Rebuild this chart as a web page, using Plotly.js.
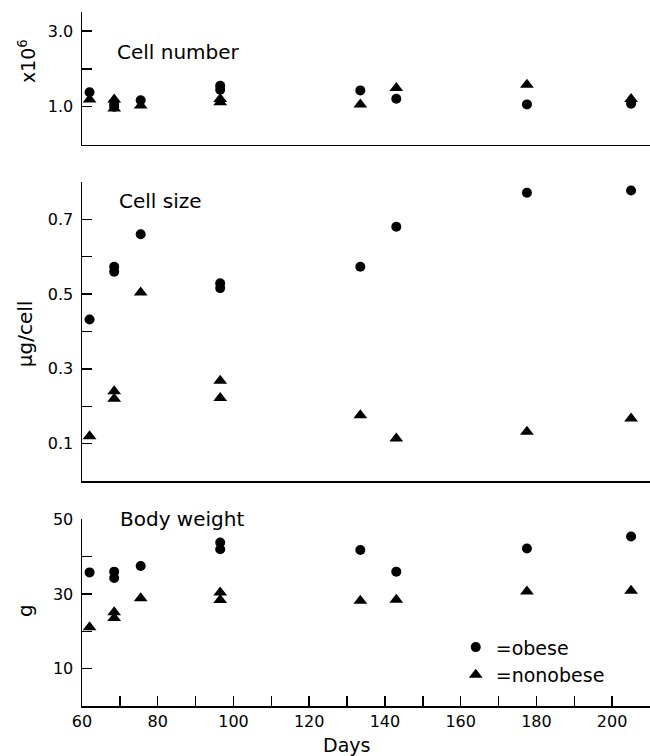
<!DOCTYPE html>
<html>
<head>
<meta charset="utf-8">
<script src="https://cdn.plot.ly/plotly-3.0.1.min.js"></script>
<style>html,body{margin:0;padding:0;background:#fff;}#chart{width:650px;height:756px;}</style>
</head>
<body>
<div id="chart"></div>
<script>
// Days of measurement (one entry per plotted point)
const days = [62, 68.5, 68.5, 75.5, 96.5, 96.5, 133.5, 143, 177.5, 205];

// Cell number (x10^6)
const cellNumberObese    = [1.38, 1.07, 1.0, 1.17, 1.55, 1.45, 1.43, 1.21, 1.06, 1.08];
const cellNumberNonobese = [1.19, 1.19, 0.95, 1.03, 1.20, 1.12, 1.06, 1.49, 1.58, 1.20];

// Cell size (ug/cell)
const cellSizeObese    = [0.432, 0.573, 0.560, 0.660, 0.529, 0.516, 0.573, 0.680, 0.771, 0.777];
const cellSizeNonobese = [0.120, 0.240, 0.220, 0.504, 0.268, 0.222, 0.176, 0.114, 0.132, 0.167];

// Body weight (g)
const bodyWeightObese    = [35.8, 36.0, 34.3, 37.5, 43.8, 42.0, 41.8, 36.0, 42.2, 45.4];
const bodyWeightNonobese = [21.1, 25.1, 23.6, 28.9, 30.4, 28.4, 28.2, 28.5, 30.7, 30.9];

// Tick labels (labelled ticks) and unlabelled ticks
const xTickVals = [60, 80, 100, 120, 140, 160, 180, 200];
const xTickText = ['60', '80', '100', '120', '140', '160', '180', '200'];
const xMinorVals = [70, 90, 110, 130, 150, 170, 190, 210];
const cnTickVals = [1, 3];
const cnTickText = ['1.0', '3.0'];
const cnMinorVals = [2];
const csTickVals = [0.1, 0.3, 0.5, 0.7];
const csTickText = ['0.1', '0.3', '0.5', '0.7'];
const csMinorVals = [0.2, 0.4, 0.6, 0.8];
const bwTickVals = [10, 30, 50];
const bwTickText = ['10', '30', '50'];
const bwMinorVals = [20, 40];

const FONT = 'DejaVu Sans, Liberation Sans, sans-serif';
const circ = {symbol:'circle', size:10, color:'#000'};
const tri  = {symbol:'triangle-up', size:12, color:'#000'};

const traces = [
  {x: days, y: bodyWeightObese, xaxis:'x', yaxis:'y', mode:'markers', type:'scatter', marker: circ, name:'=obese', legendgroup:'o', showlegend:true},
  {x: days, y: bodyWeightNonobese, xaxis:'x', yaxis:'y', mode:'markers', type:'scatter', marker: tri, name:'=nonobese', legendgroup:'n', showlegend:true},
  {x: days, y: cellSizeObese, xaxis:'x2', yaxis:'y2', mode:'markers', type:'scatter', marker: circ, name:'=obese', legendgroup:'o', showlegend:false},
  {x: days, y: cellSizeNonobese, xaxis:'x2', yaxis:'y2', mode:'markers', type:'scatter', marker: tri, name:'=nonobese', legendgroup:'n', showlegend:false},
  {x: days, y: cellNumberObese, xaxis:'x3', yaxis:'y3', mode:'markers', type:'scatter', marker: circ, name:'=obese', legendgroup:'o', showlegend:false},
  {x: days, y: cellNumberNonobese, xaxis:'x3', yaxis:'y3', mode:'markers', type:'scatter', marker: tri, name:'=nonobese', legendgroup:'n', showlegend:false}
];

function minorTicks(vals) {
  return {tickmode:'array', tickvals: vals, ticks:'inside', ticklen:10, tickwidth:1.5, tickcolor:'#000', showgrid:false};
}

const yBase = {
  showline:true, linecolor:'#000', linewidth:1.5, ticks:'inside', ticklen:10, tickwidth:1.5, tickcolor:'#000',
  showgrid:false, zeroline:false, tickmode:'array', ticklabelstandoff:4,
  tickfont:{family:FONT, size:16, color:'#000'}, fixedrange:true
};
const xBase = {
  range:[60,210], showline:true, linecolor:'#000', linewidth:1.5, showgrid:false, zeroline:false, fixedrange:true
};

const layout = {
  width:650, height:756,
  margin:{l:82, r:0, t:12, b:50},
  paper_bgcolor:'#fff', plot_bgcolor:'#fff',
  font:{family:FONT, color:'#000'},
  showlegend:true,
  legend:{x:0.658, xanchor:'left', y:0.112, yanchor:'top', font:{family:FONT, size:19, color:'#000'},
          bgcolor:'rgba(0,0,0,0)', tracegroupgap:0, itemwidth:30},
  xaxis: Object.assign({}, xBase, {anchor:'y', domain:[0,1], ticks:'inside', ticklen:10, tickwidth:1.5, tickcolor:'#000',
          tickmode:'array', tickvals:xTickVals, ticktext:xTickText, tickfont:{family:FONT, size:16, color:'#000'},
          minor: minorTicks(xMinorVals)}),
  xaxis2: Object.assign({}, xBase, {anchor:'y2', domain:[0,1], showticklabels:false, ticks:''}),
  xaxis3: Object.assign({}, xBase, {anchor:'y3', domain:[0,1], showticklabels:false, ticks:''}),
  yaxis: Object.assign({}, yBase, {anchor:'x', domain:[0,0.2689], range:[0,50], tickvals:bwTickVals, ticktext:bwTickText, minor: minorTicks(bwMinorVals)}),
  yaxis2: Object.assign({}, yBase, {anchor:'x2', domain:[0.3241,0.7552], range:[0,0.8], tickvals:csTickVals, ticktext:csTickText, minor: minorTicks(csMinorVals)}),
  yaxis3: Object.assign({}, yBase, {anchor:'x3', domain:[0.8090,1], range:[0,3.5], tickvals:cnTickVals, ticktext:cnTickText, minor: minorTicks(cnMinorVals)}),
  annotations:[
    {text:'Cell number', xref:'x3 domain', yref:'y3 domain', x:0.058, y:0.696, xanchor:'left', yanchor:'middle', showarrow:false, font:{family:FONT, size:20, color:'#000'}},
    {text:'Cell size', xref:'x2 domain', yref:'y2 domain', x:0.0616, y:0.9365, xanchor:'left', yanchor:'middle', showarrow:false, font:{family:FONT, size:20, color:'#000'}},
    {text:'Body weight', xref:'x domain', yref:'y domain', x:0.063, y:1.0, xanchor:'left', yanchor:'middle', showarrow:false, font:{family:FONT, size:20, color:'#000'}},
    {text:'x10<sup>6</sup>', xref:'paper', yref:'y3 domain', x:-0.0968, y:0.63, xanchor:'center', yanchor:'middle', textangle:-90, showarrow:false, font:{family:FONT, size:19, color:'#000'}},
    {text:'\u03bcg/cell', xref:'paper', yref:'y2 domain', x:-0.1004, y:0.494, xanchor:'center', yanchor:'middle', textangle:-90, showarrow:false, font:{family:FONT, size:20, color:'#000'}},
    {text:'g', xref:'paper', yref:'y domain', x:-0.1004, y:0.514, xanchor:'center', yanchor:'middle', textangle:-90, showarrow:false, font:{family:FONT, size:20, color:'#000'}},
    {text:'Days', xref:'paper', yref:'paper', x:0.465, y:-0.056, xanchor:'center', yanchor:'middle', showarrow:false, font:{family:FONT, size:19, color:'#000'}}
  ]
};

Plotly.newPlot('chart', traces, layout, {displayModeBar:false, staticPlot:true});
</script>
</body>
</html>
